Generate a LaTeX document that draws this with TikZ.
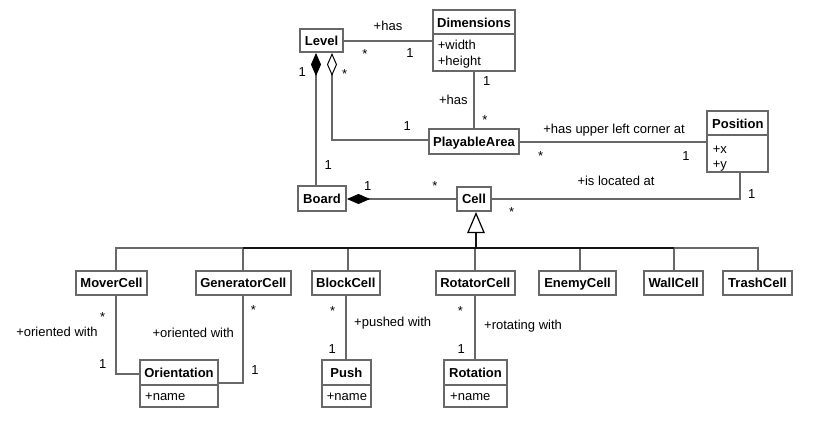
\documentclass[tikz,border=0pt]{standalone}
\usepackage{fontspec}
\setmainfont{Liberation Sans}
\usetikzlibrary{arrows.meta}
\definecolor{edge}{RGB}{104,104,104}
\definecolor{hubdark}{RGB}{20,20,20}
\begin{document}
\begin{tikzpicture}[x=1pt,y=-1pt,
  font=\fontsize{13}{16}\selectfont,
  cls/.style={draw=edge, line width=2pt, fill=white, inner sep=0pt, text height=9.4pt, text depth=0pt, font=\fontsize{13}{16}\selectfont\bfseries},
  title/.style={inner sep=0pt, text height=9.4pt, text depth=0pt, font=\fontsize{13}{16}\selectfont\bfseries},
  attr/.style={inner sep=0pt, text height=9.4pt, text depth=0pt, anchor=west},
  lab/.style={inner sep=0pt, text height=9.4pt, text depth=0pt},
  mult/.style={inner sep=0pt, text height=9.4pt, text depth=0pt, yshift=-2.8pt},
  conn/.style={draw=edge, line width=2pt},
  hubline/.style={draw=hubdark, line width=2pt},
  compo/.style={-{Diamond[length=23pt, width=10pt, line width=0.8pt, color=black]}},
  aggr/.style={-{Diamond[open, length=23pt, width=10pt, line width=1pt, color=black, fill=white]}},
  inherit/.style={-{Triangle[open, length=21pt, width=17.5pt, line width=1.2pt, color=black, fill=white]}},
]
% canvas
\path[use as bounding box, fill=white] (0,0) rectangle (831,447);

% ---- classes with one compartment ----
\node[cls, minimum width=43pt, minimum height=23pt] (lvl) at (321.5,40.5) {Level};
\node[cls, minimum width=90pt, minimum height=25pt] (pa) at (474,141.5) {PlayableArea};
\node[cls, minimum width=48pt, minimum height=25pt] (board) at (322,198.5) {Board};
\node[cls, minimum width=34pt, minimum height=24pt] (cell) at (474,199) {Cell};

\node[cls, minimum width=71.6pt, minimum height=24pt] (mover) at (111.5,283) {MoverCell};
\node[cls, minimum width=95.3pt, minimum height=24pt] (gen) at (243.3,283) {GeneratorCell};
\node[cls, minimum width=68.3pt, minimum height=24pt] (block) at (345.8,283) {BlockCell};
\node[cls, minimum width=79.3pt, minimum height=24pt] (rot) at (475.3,283) {RotatorCell};
\node[cls, minimum width=76.4pt, minimum height=24pt] (enemy) at (577.5,283) {EnemyCell};
\node[cls, minimum width=59.3pt, minimum height=24pt] (wall) at (673.7,283) {WallCell};
\node[cls, minimum width=68.4pt, minimum height=24pt] (trash) at (757.5,283) {TrashCell};

% ---- classes with attributes ----
\node[cls, minimum width=82pt, minimum height=61pt] (dim) at (474,40.5) {};
\draw[conn] (dim.west |- 0,34) -- (dim.east |- 0,34);
\node[title] (dim-t) at (474,22.7) {Dimensions};
\node[attr] (dim-a1) at (437.7,44.3) {+width};
\node[attr] (dim-a2) at (437.7,60.7) {+height};

\node[cls, minimum width=61pt, minimum height=61pt] (pos) at (737.8,141.7) {};
\draw[conn] (pos.west |- 0,135) -- (pos.east |- 0,135);
\node[title] (pos-t) at (737.8,124) {Position};
\node[attr] (pos-a1) at (712.7,148.5) {+x};
\node[attr] (pos-a2) at (712.7,164) {+y};

\node[cls, minimum width=78pt, minimum height=46.7pt] (ori) at (179,383.3) {};
\draw[conn] (ori.west |- 0,385) -- (ori.east |- 0,385);
\node[title] (ori-t) at (179,372.3) {Orientation};
\node[attr] (ori-a) at (145,395.7) {+name};

\node[cls, minimum width=49.3pt, minimum height=46.7pt] (push) at (346.3,383.3) {};
\draw[conn] (push.west |- 0,385) -- (push.east |- 0,385);
\node[title] (push-t) at (346.3,372.3) {Push};
\node[attr] (push-a) at (326.7,395.7) {+name};

\node[cls, minimum width=62.4pt, minimum height=46.7pt] (rotn) at (475.5,383.3) {};
\draw[conn] (rotn.west |- 0,385) -- (rotn.east |- 0,385);
\node[title] (rotn-t) at (475.5,372.3) {Rotation};
\node[attr] (rotn-a) at (450,395.7) {+name};

% ---- associations ----
\draw[conn] (lvl.east) -- (lvl.east -| dim.west);
\draw[conn] (dim.south) -- (pa.north);
\draw[conn] (pa.east) -- (pa.east -| pos.west);
\draw[conn] (cell.east) -| ([xshift=2.2pt]pos.south);
\draw[conn, compo] ([xshift=-6pt]board.north) -- ([xshift=-6pt]board.north |- lvl.south);
\draw[conn, aggr] ([yshift=1.5pt]pa.west) -| ([xshift=10.5pt]lvl.south);
\draw[conn, compo] (cell.west) -- (cell.west -| board.east);

\draw[conn] ([xshift=4.5pt]mover.south) |- ([yshift=9pt]ori.west);
\draw[conn] (gen.south) |- ([yshift=0.6pt]ori.east);
\draw[conn] (block.south) -- (block.south |- push.north);
\draw[conn] (rot.south) -- (rot.south |- rotn.north);

% ---- generalisation ----
\coordinate (hub) at (476,248);
\draw[conn] ([xshift=4.5pt]mover.north) |- (hub);
\draw[conn] (gen.north) |- (hub);
\draw[conn] ([xshift=2pt]block.north) |- (hub);
\draw[conn] (rot.north) |- (hub);
\draw[conn] ([xshift=2.5pt]enemy.north) |- (hub);
\draw[conn] (wall.north) |- (hub);
\draw[conn] (trash.north) |- (hub);
\draw[hubline] (gen.north |- hub) -- (wall.north |- hub);
\draw[hubline, inherit] (hub) -- ([xshift=2pt]cell.south);

% ---- role names and multiplicities ----
\node[lab] (l1) at (388,25.7) {+has};
\node[mult] (m1) at (365,50.7) {*};
\node[lab] (m2) at (410,52.3) {1};
\node[lab] (m3) at (302.3,71.7) {1};
\node[mult] (m4) at (344.7,71) {*};
\node[lab] (m5) at (486.7,81) {1};
\node[lab] (l2) at (453.3,99.3) {+has};
\node[mult] (m6) at (485,116.7) {*};
\node[lab] (m7) at (407.3,126) {1};
\node[lab] (l3) at (614,128.3) {+has upper left corner at};
\node[mult] (m8) at (540.7,152.7) {*};
\node[lab] (m9) at (686,156) {1};
\node[lab] (m10) at (328.3,164.3) {1};
\node[lab] (m11) at (367.7,186) {1};
\node[mult] (m12) at (435,183.3) {*};
\node[lab] (l4) at (616,181) {+is located at};
\node[lab] (m13) at (751.7,193.3) {1};
\node[mult] (m14) at (511.7,209.3) {*};

\node[mult] (m15) at (102.7,314) {*};
\node[lab] (l5) at (57,332) {+oriented with};
\node[lab] (m16) at (102.7,363.3) {1};
\node[mult] (m17) at (253.3,307.3) {*};
\node[lab] (l6) at (193.3,332.3) {+oriented with};
\node[lab] (m18) at (255,370) {1};
\node[mult] (m19) at (332.7,307.7) {*};
\node[lab] (l7) at (392.7,321.7) {+pushed with};
\node[lab] (m20) at (332.3,349) {1};
\node[mult] (m21) at (460.3,307.7) {*};
\node[lab, anchor=west] (l8) at (484,325) {+rotating with};
\node[lab] (m22) at (461.3,349) {1};
\end{tikzpicture}
\end{document}
